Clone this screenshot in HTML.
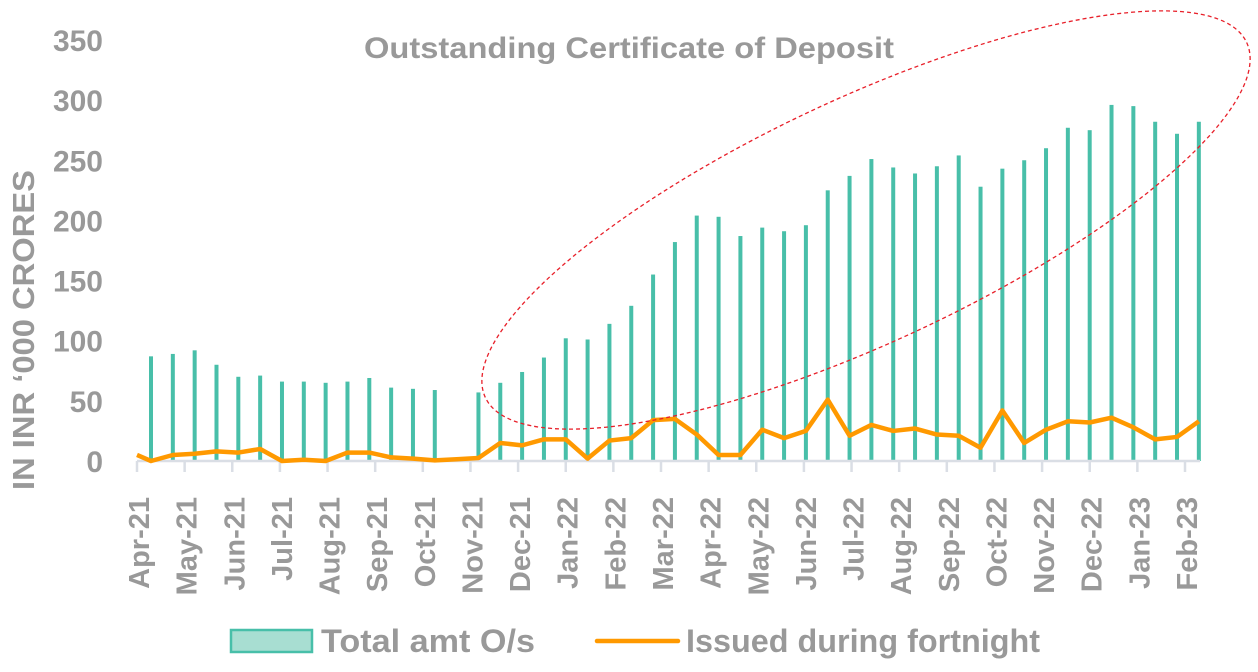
<!DOCTYPE html>
<html><head><meta charset="utf-8"><style>
body{margin:0;background:#fff;}
svg text{font-family:"Liberation Sans",sans-serif;font-weight:bold;fill:#999;}
</style></head><body>
<svg id="chart" width="1258" height="667" viewBox="0 0 1258 667">
<text x="629" y="58" text-anchor="middle" font-size="30" textLength="530" lengthAdjust="spacingAndGlyphs">Outstanding Certificate of Deposit</text>
<text transform="translate(34,330) rotate(-90)" text-anchor="middle" font-size="31" textLength="320" lengthAdjust="spacingAndGlyphs">IN INR  ‘000 CRORES</text>
<g id="yticks"></g><g id="bars"></g><g id="axis"></g><g id="line"></g>
<ellipse cx="866" cy="220" rx="420" ry="122" transform="rotate(-25 866 220)" fill="none" stroke="#e8202a" stroke-width="1.3" stroke-dasharray="4,3"/>
<g>
<rect x="231" y="630" width="81" height="22" fill="#a8ded2" stroke="#48bfa9" stroke-width="2.5"/>
<text x="321" y="652" font-size="32" textLength="214" lengthAdjust="spacingAndGlyphs">Total amt O/s</text>
<line x1="597" y1="641" x2="678" y2="641" stroke="#ff9900" stroke-width="4.5" stroke-linecap="round"/>
<text x="686" y="652" font-size="32" textLength="354" lengthAdjust="spacingAndGlyphs">Issued during fortnight</text>
</g>
</svg>
<script>
const months=["Apr-21","May-21","Jun-21","Jul-21","Aug-21","Sep-21","Oct-21","Nov-21","Dec-21","Jan-22","Feb-22","Mar-22","Apr-22","May-22","Jun-22","Jul-22","Aug-22","Sep-22","Oct-22","Nov-22","Dec-22","Jan-23","Feb-23"];
const yTicks=[0,50,100,150,200,250,300,350];
const totalOutstanding=[87,89,92,80,70,71,66,66,65,66,69,61,60,59,null,57,65,74,86,102,101,114,129,155,182,204,203,187,194,191,196,225,237,251,244,239,245,254,228,243,250,260,277,275,296,295,282,272,282];
const issuedStart=5;
const issued=[0,5,6,8,7,10,0,1,0,7,7,3,2,0.5,1.5,2.5,15,13,18,18,2,17,19,34,35,22,5,5,26,19,25,51,21,30,25,27,22,21,11,42,15,26,33,32,36,28,18,20,33];
const NS="http://www.w3.org/2000/svg";
const y0=461,yPer=1.203;
function y(v){return y0-v*yPer;}
function x(i){return 151+i*21.83;}
function mk(t,a,p){const e=document.createElementNS(NS,t);for(const k in a)e.setAttribute(k,a[k]);p.appendChild(e);return e;}
const gY=document.getElementById('yticks');
yTicks.forEach(v=>{const t=mk('text',{x:103,y:y(v)+11,'text-anchor':'end','font-size':30},gY);t.textContent=v;

});
const gB=document.getElementById('bars');
totalOutstanding.forEach((v,i)=>{if(v==null)return;const r=mk('rect',{x:x(i)-2,y:y(v),width:4,height:v*yPer,fill:'#48bfa9'},gB);

});
const gA=document.getElementById('axis');
const ax=mk('line',{x1:137,y1:y0,x2:1200,y2:y0,stroke:'#dadee5','stroke-width':2.5},gA);


const mStep=(1185-137)/22;
months.forEach((m,k)=>{const tx=137+k*mStep;
const tk=mk('line',{x1:tx,y1:y0,x2:tx,y2:y0+11,stroke:'#dadee5','stroke-width':2.5},gA);


const t=mk('text',{transform:`translate(${tx+12},497) rotate(-90)`,'text-anchor':'end','font-size':29},gA);t.textContent=m;

});
const gL=document.getElementById('line');
let pts=[[137,y(issuedStart)]].concat(issued.map((v,i)=>[x(i),y(v)]));
const pl=mk('polyline',{points:pts.map(p=>p.join(',')).join(' '),fill:'none',stroke:'#ff9900','stroke-width':4.5,'stroke-linejoin':'round'},gL);


</script>
</body></html>
